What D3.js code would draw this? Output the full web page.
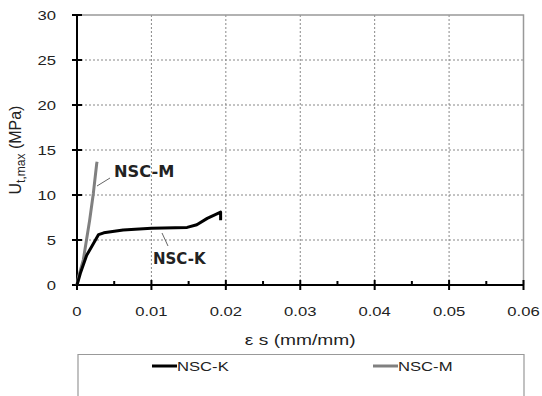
<!DOCTYPE html>
<html>
<head>
<meta charset="utf-8">
<script src="https://cdn.jsdelivr.net/npm/d3@7"></script>
<style>
  body { margin: 0; background: #fff; }
  text { font-family: "Liberation Sans", Arial, sans-serif; fill: #222; }
  .callout { font-family: "DejaVu Sans", sans-serif; font-weight: bold; font-size: 15px; }
</style>
</head>
<body>
<script>
// strain (mm/mm) vs stress (MPa)
const nscKStrain = [0, 0.00045, 0.0013, 0.002, 0.0029, 0.0036, 0.0062, 0.010, 0.0148, 0.0161, 0.0175, 0.0188, 0.0193, 0.0193];
const nscKStress = [0, 1.3, 3.3, 4.3, 5.6, 5.8, 6.1, 6.3, 6.4, 6.7, 7.4, 7.9, 8.1, 7.2];
const nscMStrain = [0, 0.0002, 0.00085, 0.0017, 0.0022, 0.00265, 0.0027];
const nscMStress = [0, 0.9, 2.8, 7.2, 10.2, 13.5, 13.7];
const xTicks = [0, 0.01, 0.02, 0.03, 0.04, 0.05, 0.06];
const xMinor = [0.005, 0.015, 0.025, 0.035, 0.045, 0.055];
const yTicks = [0, 5, 10, 15, 20, 25, 30];
const seriesNames = ["NSC-K", "NSC-M"];

const W = 542, H = 396;
const stretch = 1.28; // the original text looks widened
const svg = d3.select("body").append("svg")
    .attr("width", W)
    .attr("height", H);

const x = d3.scaleLinear().domain([0, 0.06]).range([77, 523.5]);
const y = d3.scaleLinear().domain([0, 30]).range([285, 15]);

function wideText(px, py, anchor, size, str) {
  return svg.append("text")
    .attr("transform", `translate(${px},${py}) scale(${stretch},1)`)
    .attr("text-anchor", anchor)
    .attr("font-size", size)
    .text(str);
}

//grid
svg.append("g").selectAll("line")
  .data(xTicks.slice(1, -1))
  .join("line")
    .attr("x1", d => x(d)).attr("x2", d => x(d))
    .attr("y1", y(0)).attr("y2", y(30))
    .attr("stroke", "#888").attr("stroke-dasharray", "2,2");
svg.append("g").selectAll("line")
  .data(yTicks.slice(1, -1))
  .join("line")
    .attr("x1", x(0)).attr("x2", x(0.06))
    .attr("y1", d => y(d)).attr("y2", d => y(d))
    .attr("stroke", "#888").attr("stroke-dasharray", "2,2");

//plot frame, top and right
svg.append("path")
  .attr("d", `M${x(0)},${y(30)}H${x(0.06)}V${y(0)}`)
  .attr("fill", "none").attr("stroke", "#999").attr("stroke-width", 1.5);

//axes
const xAxis = svg.append("g");
xAxis.append("line")
  .attr("x1", x(0)).attr("x2", x(0.06))
  .attr("y1", y(0)).attr("y2", y(0))
  .attr("stroke", "#000").attr("stroke-width", 2);
xAxis.selectAll(".maj").data(xTicks).join("line")
  .attr("x1", d => x(d)).attr("x2", d => x(d))
  .attr("y1", y(0) - 5).attr("y2", y(0) + 5)
  .attr("stroke", "#000").attr("stroke-width", 2);
xAxis.selectAll(".min").data(xMinor).join("line")
  .attr("x1", d => x(d)).attr("x2", d => x(d))
  .attr("y1", y(0) - 4).attr("y2", y(0))
  .attr("stroke", "#000").attr("stroke-width", 2);
xTicks.forEach(d => {
  wideText(x(d), 316, "middle", 13,
    d === 0 ? "0" : d3.format(".2f")(d).replace(/0$/, ""));
});

const yAxis = svg.append("g");
yAxis.append("line")
  .attr("x1", x(0)).attr("x2", x(0))
  .attr("y1", y(0)).attr("y2", y(30))
  .attr("stroke", "#000").attr("stroke-width", 2);
yAxis.selectAll("line.t").data(yTicks).join("line")
  .attr("x1", x(0) - 5).attr("x2", x(0) + 5)
  .attr("y1", d => y(d)).attr("y2", d => y(d))
  .attr("stroke", "#000").attr("stroke-width", 2);
yTicks.forEach(d => wideText(56, y(d) + 4.5, "end", 13, d));

//axis titles
const yt = svg.append("text")
  .attr("transform", `translate(21,${y(15)}) rotate(-90)`)
  .attr("text-anchor", "middle")
  .attr("font-size", 16);
yt.append("tspan").text("U");
yt.append("tspan").attr("font-size", 12).attr("dy", 4).text("t,max");
yt.append("tspan").attr("dy", -4).text(" (MPa)");

wideText(x(0.03), 345, "middle", 15, "\u03b5 s (mm/mm)");

//series
const line = d3.line().x(d => x(d[0])).y(d => y(d[1]));
svg.append("path")
  .datum(d3.zip(nscMStrain, nscMStress))
  .attr("d", line)
  .attr("fill", "none").attr("stroke", "#808080").attr("stroke-width", 3)
  .attr("stroke-linejoin", "round");
svg.append("path")
  .datum(d3.zip(nscKStrain, nscKStress))
  .attr("d", line)
  .attr("fill", "none").attr("stroke", "#000").attr("stroke-width", 3)
  .attr("stroke-linejoin", "round");

//callouts
svg.append("line")
  .attr("x1", 110).attr("y1", 178).attr("x2", 97).attr("y2", 186)
  .attr("stroke", "#666");
svg.append("text").attr("class", "callout")
  .attr("transform", "translate(114,177) scale(1.08,1)").text("NSC-M");
svg.append("line")
  .attr("x1", 162).attr("y1", 233).attr("x2", 168).attr("y2", 246)
  .attr("stroke", "#666");
svg.append("text").attr("class", "callout")
  .attr("transform", "translate(153,264) scale(1.0,1)").text("NSC-K");

//legend
svg.append("path")
  .attr("d", `M78,400V354.5H524V400`)
  .attr("fill", "none").attr("stroke", "#999").attr("stroke-width", 1.2);
const legendX = [152, 373];
const legendColor = ["#000", "#808080"];
seriesNames.forEach((name, i) => {
  svg.append("line")
    .attr("x1", legendX[i]).attr("x2", legendX[i] + 25)
    .attr("y1", 366).attr("y2", 366)
    .attr("stroke", legendColor[i]).attr("stroke-width", 3);
  wideText(legendX[i] + 25, 371, "start", 13, name);
});
</script>
</body>
</html>
